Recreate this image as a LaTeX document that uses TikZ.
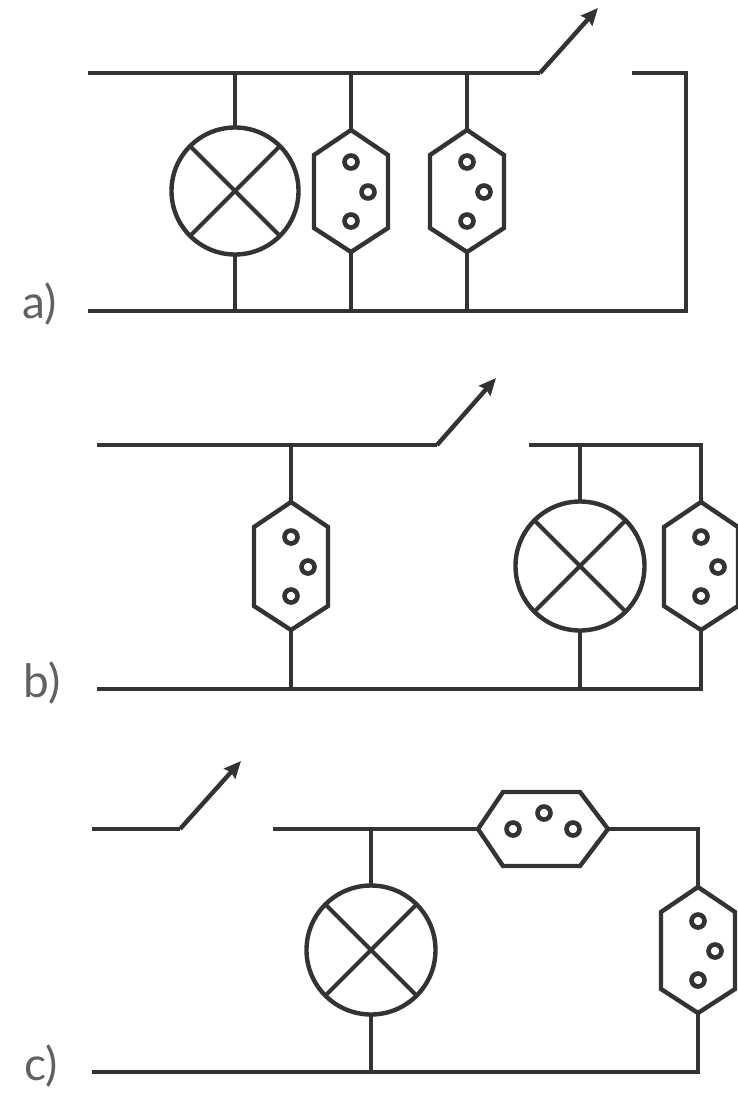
\documentclass[tikz,border=0pt]{standalone}
\usepackage{fontspec}
\setmainfont{Lato}
\usetikzlibrary{arrows.meta}
\definecolor{ink}{HTML}{333333}
\tikzset{
  x=1pt,y=-1pt,
  wire/.style={draw=ink,line width=4.4pt,line join=miter},
  lever/.style={wire,-{Stealth[length=17pt,width=15pt,inset=2pt]}},
  lamp/.style={circle,draw=ink,line width=4.4pt,minimum size=#1,inner sep=0pt,outer sep=0pt},
  lamp/.default=127pt,
  hole/.style={draw=ink,line width=4.6pt},
  lbl/.style={text=black!62,font=\fontsize{46}{50}\selectfont,inner sep=0pt},
  pics/vsock/.style={code={
    \draw[wire] (-37,-#1+25) -- (0,-#1) -- (37,-#1+25) -- (37,#1-24) -- (0,#1) -- (-37,#1-24) -- cycle;
    \coordinate (-t) at (0,-#1);
    \coordinate (-b) at (0,#1);
    \draw[hole] (0,-29) circle (6.5);
    \draw[hole] (17,1) circle (6.5);
    \draw[hole] (0,30) circle (6.5);
  }},
  hsock/.pic={
    \draw[wire] (-65,0) -- (-40,-37) -- (37,-37) -- (65,0) -- (37,37) -- (-40,37) -- cycle;
    \coordinate (-l) at (-65,0);
    \coordinate (-r) at (65,0);
    \draw[hole] (-30,0) circle (6.5);
    \draw[hole] (1,-16) circle (6.5);
    \draw[hole] (30,0) circle (6.5);
  }
}
\newcommand{\lampcross}[1]{\draw[wire,line width=4pt] (#1.45) -- (#1.225) (#1.135) -- (#1.315);}
\begin{document}
\begin{tikzpicture}
\useasboundingbox (0,0) rectangle (738,1095);
% a
\node[lamp] (la) at (235,191) {};
\lampcross{la}
\pic (sa1) at (351,191) {vsock=61};
\pic (sa2) at (467,191) {vsock=61};
\coordinate (a0) at (88,73);
\coordinate (a1) at (235,73);
\coordinate (a2) at (351,73);
\coordinate (a3) at (467,73);
\coordinate (a4) at (540,73);
\coordinate (a5) at (598,8);
\coordinate (a6) at (632,73);
\coordinate (a7) at (686,73);
\coordinate (a8) at (686,311);
\coordinate (a9) at (88,311);
\coordinate (a10) at (235,311);
\coordinate (a11) at (351,311);
\coordinate (a12) at (467,311);
\draw[wire] (a0) -- (a4);
\draw[lever] (a4) -- (a5);
\draw[wire] (a6) -- (a7) -- (a8) -- (a9);
\draw[wire] (a1) -- (la) (la) -- (a10);
\draw[wire] (a2) -- (sa1-t) (sa1-b) -- (a11);
\draw[wire] (a3) -- (sa2-t) (sa2-b) -- (a12);
\node[lbl] (ta) at (40,304) {a)};
% b
\node[lamp=129pt] (lb) at (580,566) {};
\lampcross{lb}
\pic (sb1) at (291,566) {vsock=64};
\pic (sb2) at (701,566) {vsock=64};
\coordinate (b0) at (97,445);
\coordinate (b1) at (291,445);
\coordinate (b4) at (437,445);
\coordinate (b5) at (496,378);
\coordinate (b6) at (529,445);
\coordinate (b7) at (580,445);
\coordinate (b8) at (701,445);
\coordinate (b9) at (701,689);
\coordinate (b10) at (580,689);
\coordinate (b11) at (291,689);
\coordinate (b12) at (97,689);
\draw[wire] (b0) -- (b4);
\draw[lever] (b4) -- (b5);
\draw[wire] (b6) -- (b8) -- (sb2-t);
\draw[wire] (sb2-b) -- (b9) -- (b12);
\draw[wire] (b1) -- (sb1-t) (sb1-b) -- (b11);
\draw[wire] (b7) -- (lb) (lb) -- (b10);
\node[lbl] (tb) at (42,683) {b)};
% c
\node[lamp=129pt] (lc) at (371,950) {};
\lampcross{lc}
\pic (sc1) at (543,829) {hsock};
\pic (sc2) at (698,950) {vsock=63};
\coordinate (c0) at (92,829);
\coordinate (c4) at (180,829);
\coordinate (c5) at (241,761);
\coordinate (c6) at (273,829);
\coordinate (c7) at (371,829);
\coordinate (c8) at (698,829);
\coordinate (c9) at (698,1072);
\coordinate (c10) at (371,1072);
\coordinate (c12) at (92,1072);
\draw[wire] (c0) -- (c4);
\draw[lever] (c4) -- (c5);
\draw[wire] (c6) -- (sc1-l);
\draw[wire] (sc1-r) -- (c8) -- (sc2-t);
\draw[wire] (sc2-b) -- (c9) -- (c12);
\draw[wire] (c7) -- (lc) (lc) -- (c10);
\node[lbl] (tc) at (41,1066) {c)};
\end{tikzpicture}
\end{document}
